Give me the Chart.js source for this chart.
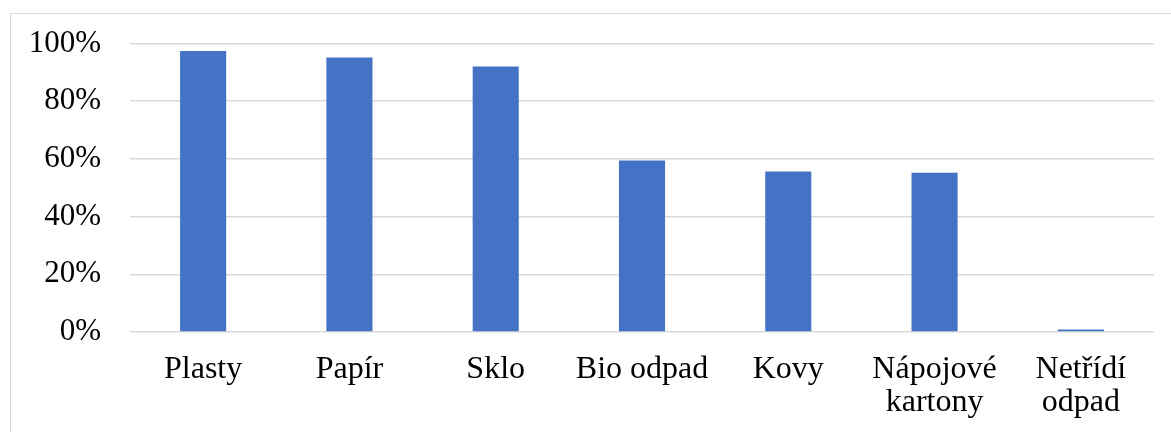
<!DOCTYPE html>
<html>
<head>
<meta charset="utf-8">
<script src="https://cdn.jsdelivr.net/npm/chart.js@4/dist/chart.umd.min.js"></script>
<style>
    html, body { margin: 0; padding: 0; background: #fff; overflow: hidden; }
    #wrap { position: relative; width: 1171px; height: 432px; }
    #frame {
        position: absolute; left: 10px; top: 13px;
        width: 1200px; height: 460px;
        border: 1px solid #d9d9d9; box-sizing: border-box;
        pointer-events: none;
    }
</style>
</head>
<body>
<div id="wrap">
    <canvas id="chart" width="1171" height="432"></canvas>
    <div id="frame"></div>
</div>
<script>
// Data
const categories = [
    'Plasty',
    'Papír',
    'Sklo',
    'Bio odpad',
    'Kovy',
    ['Nápojové', 'kartony'],
    ['Netřídí', 'odpad']
];
const shares = [97.4, 95.1, 92.0, 59.4, 55.6, 55.2, 0.9];
const yTicks = [0, 20, 40, 60, 80, 100];

const font = "'Liberation Serif', 'Times New Roman', serif";

const ctx = document.getElementById('chart').getContext('2d');

new Chart(ctx, {
    type: 'bar',
    data: {
        labels: categories,
        datasets: [{
            data: shares,
            backgroundColor: '#4472C4',
            borderWidth: 0,
            barPercentage: 0.315,
            categoryPercentage: 1
        }]
    },
    options: {
        responsive: false,
        animation: false,
        layout: {
            padding: { top: 30, right: 17, bottom: 0, left: 0 }
        },
        plugins: {
            legend: { display: false },
            tooltip: { enabled: false }
        },
        scales: {
            y: {
                min: 0,
                max: 100,
                afterBuildTicks: (axis) => {
                    axis.ticks = yTicks.map(v => ({ value: v }));
                },
                afterFit: (axis) => { axis.width = 130; },
                ticks: {
                    color: '#000',
                    padding: 29,
                    font: { family: font, size: 31, lineHeight: 0.93 },
                    callback: (v) => v + '%'
                },
                grid: {
                    color: '#d9d9d9',
                    lineWidth: 1.5,
                    drawTicks: false
                },
                border: { display: false }
            },
            x: {
                afterFit: (axis) => { axis.height = 100; },
                ticks: {
                    color: '#000',
                    padding: 21,
                    autoSkip: false,
                    maxRotation: 0,
                    font: { family: font, size: 32, lineHeight: 1.03 }
                },
                grid: { display: false, drawTicks: false },
                border: { display: false }
            }
        }
    }
});
</script>
</body>
</html>
